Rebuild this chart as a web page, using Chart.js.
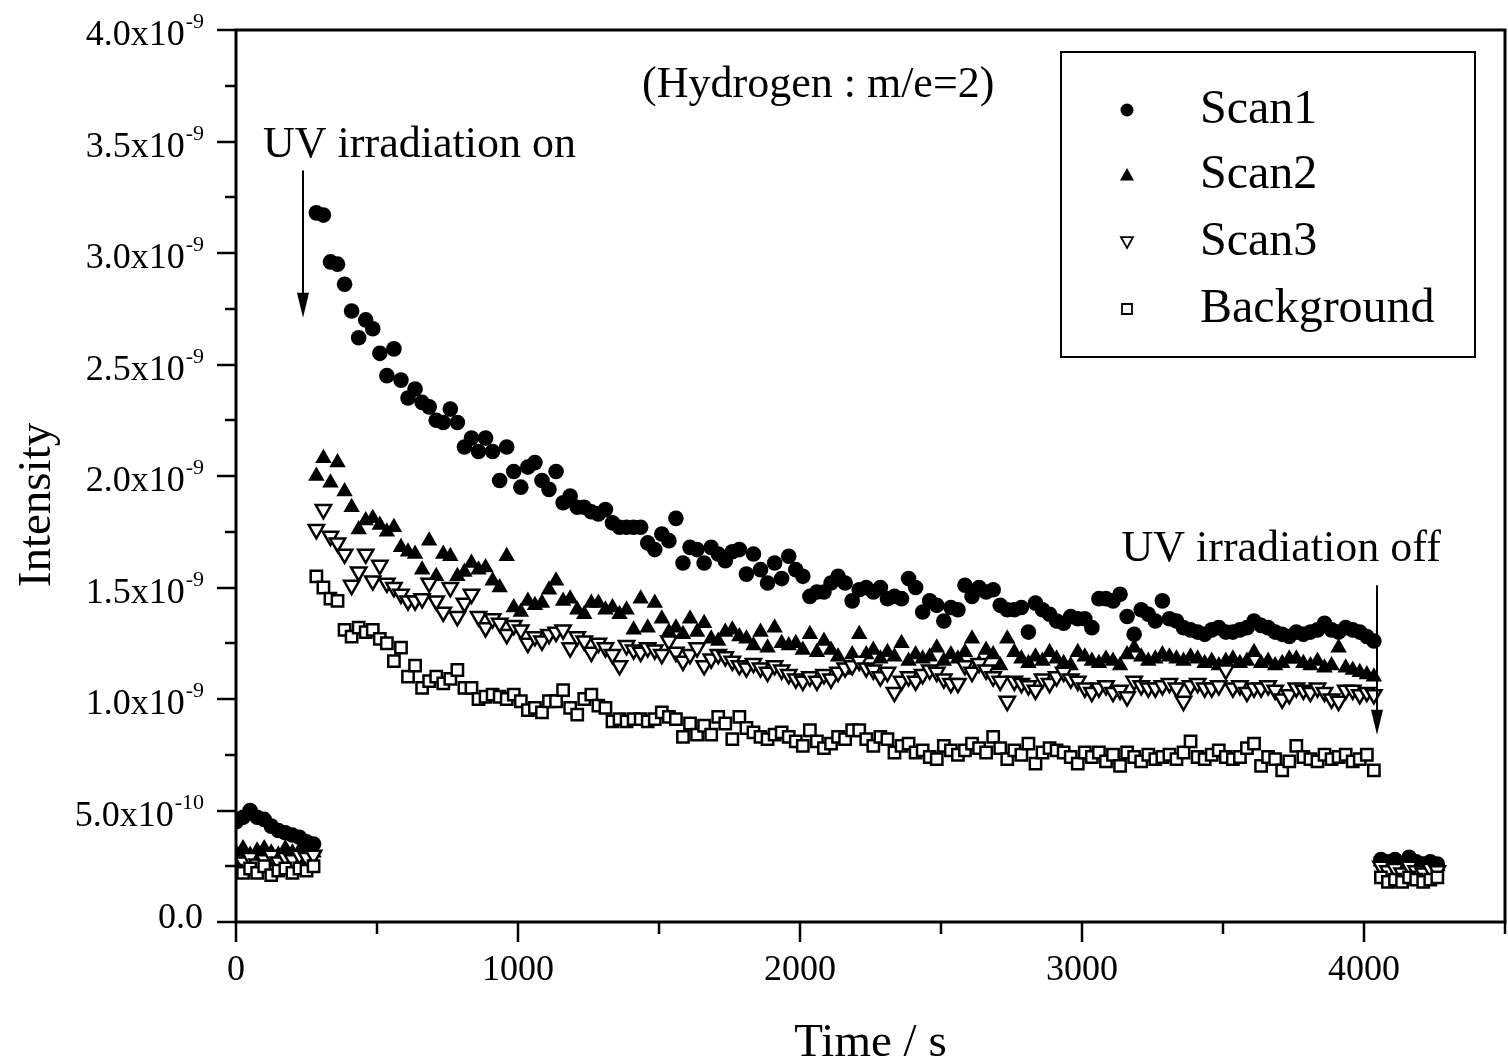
<!DOCTYPE html>
<html>
<head>
<meta charset="utf-8">
<title>Hydrogen (m/e=2) intensity vs time</title>
<script src="https://cdn.jsdelivr.net/npm/chart.js@4.4.1/dist/chart.umd.min.js"></script>
<style>
  html, body { margin: 0; padding: 0; background: #fff; }
  #wrap { width: 1508px; height: 1064px; }
</style>
</head>
<body>
<div id="wrap"><canvas id="hydrogenChart" width="1508" height="1064"></canvas></div>
<script>
// intensity values are in units of 1e-9
const seriesLabels = ['Scan1', 'Scan2', 'Scan3', 'Background'];

// sampling times (s): before UV, while UV is on, after UV is off
const timePre = [0, 25, 50, 75, 100, 125, 150, 175, 200, 225, 250, 275];
const timeMain = [
  285, 310, 335, 360, 385, 410, 435, 460, 485, 510,
  535, 560, 585, 610, 635, 660, 685, 710, 735, 760,
  785, 810, 835, 860, 885, 910, 935, 960, 985, 1010,
  1035, 1060, 1085, 1110, 1135, 1160, 1185, 1210, 1235, 1260,
  1285, 1310, 1335, 1360, 1385, 1410, 1435, 1460, 1485, 1510,
  1535, 1560, 1585, 1610, 1635, 1660, 1685, 1710, 1735, 1760,
  1785, 1810, 1835, 1860, 1885, 1910, 1935, 1960, 1985, 2010,
  2035, 2060, 2085, 2110, 2135, 2160, 2185, 2210, 2235, 2260,
  2285, 2310, 2335, 2360, 2385, 2410, 2435, 2460, 2485, 2510,
  2535, 2560, 2585, 2610, 2635, 2660, 2685, 2710, 2735, 2760,
  2785, 2810, 2835, 2860, 2885, 2910, 2935, 2960, 2985, 3010,
  3035, 3060, 3085, 3110, 3135, 3160, 3185, 3210, 3235, 3260,
  3285, 3310, 3335, 3360, 3385, 3410, 3435, 3460, 3485, 3510,
  3535, 3560, 3585, 3610, 3635, 3660, 3685, 3710, 3735, 3760,
  3785, 3810, 3835, 3860, 3885, 3910, 3935, 3960, 3985, 4010,
  4035
];
const timePost = [4060, 4085, 4110, 4135, 4160, 4185, 4210, 4235, 4260];

const scan1Pre = [0.45, 0.47, 0.50, 0.47, 0.46, 0.43, 0.41, 0.40, 0.39, 0.38, 0.36, 0.35];
const scan1Main = [
  3.18, 3.17, 2.96, 2.95, 2.86, 2.74, 2.62, 2.70, 2.66, 2.55,
  2.45, 2.57, 2.43, 2.35, 2.39, 2.33, 2.31, 2.25, 2.24, 2.30,
  2.24, 2.13, 2.17, 2.11, 2.17, 2.11, 1.98, 2.13, 2.02, 1.95,
  2.04, 2.06, 1.98, 1.94, 2.02, 1.88, 1.91, 1.86, 1.86, 1.84,
  1.83, 1.85, 1.79, 1.77, 1.77, 1.77, 1.77, 1.70, 1.67, 1.74,
  1.71, 1.81, 1.61, 1.68, 1.67, 1.61, 1.68, 1.65, 1.62, 1.66,
  1.67, 1.56, 1.65, 1.58, 1.52, 1.61, 1.54, 1.64, 1.58, 1.55,
  1.46, 1.48, 1.48, 1.52, 1.55, 1.52, 1.44, 1.49, 1.50, 1.48,
  1.50, 1.45, 1.46, 1.45, 1.54, 1.50, 1.39, 1.44, 1.42, 1.35,
  1.41, 1.40, 1.51, 1.46, 1.50, 1.48, 1.49, 1.42, 1.40, 1.40,
  1.41, 1.30, 1.43, 1.40, 1.38, 1.35, 1.34, 1.37, 1.36, 1.36,
  1.32, 1.45, 1.45, 1.44, 1.47, 1.37, 1.29, 1.40, 1.38, 1.35,
  1.44, 1.36, 1.35, 1.32, 1.31, 1.30, 1.29, 1.31, 1.32, 1.30,
  1.30, 1.31, 1.32, 1.35, 1.33, 1.32, 1.30, 1.29, 1.28, 1.30,
  1.29, 1.30, 1.31, 1.34, 1.31, 1.30, 1.32, 1.31, 1.30, 1.28,
  1.26
];
const scan1Post = [0.28, 0.27, 0.28, 0.26, 0.29, 0.27, 0.26, 0.27, 0.26];

const scan2Pre = [0.31, 0.33, 0.30, 0.32, 0.33, 0.31, 0.30, 0.33, 0.31, 0.32, 0.30, 0.31];
const scan2Main = [
  2.00, 2.08, 1.97, 2.06, 1.93, 1.86, 1.76, 1.80, 1.81, 1.78,
  1.75, 1.77, 1.68, 1.66, 1.65, 1.58, 1.71, 1.55, 1.65, 1.64,
  1.55, 1.57, 1.61, 1.58, 1.59, 1.53, 1.50, 1.64, 1.41, 1.39,
  1.44, 1.42, 1.43, 1.49, 1.53, 1.44, 1.45, 1.40, 1.38, 1.43,
  1.43, 1.40, 1.41, 1.38, 1.40, 1.31, 1.45, 1.32, 1.43, 1.36,
  1.30, 1.32, 1.29, 1.36, 1.30, 1.34, 1.27, 1.26, 1.30, 1.31,
  1.28, 1.27, 1.24, 1.30, 1.23, 1.32, 1.25, 1.24, 1.25, 1.22,
  1.29, 1.21, 1.26, 1.22, 1.19, 1.13, 1.20, 1.29, 1.20, 1.22,
  1.18, 1.21, 1.19, 1.25, 1.17, 1.20, 1.18, 1.19, 1.23, 1.17,
  1.20, 1.18, 1.21, 1.27, 1.16, 1.22, 1.20, 1.15, 1.27, 1.21,
  1.18, 1.16, 1.19, 1.17, 1.21, 1.18, 1.16, 1.15, 1.21, 1.19,
  1.17, 1.16, 1.18, 1.17, 1.15, 1.20, 1.23, 1.19, 1.17, 1.18,
  1.20, 1.19, 1.18, 1.17, 1.19, 1.18, 1.16, 1.17, 1.15, 1.17,
  1.18, 1.16, 1.17, 1.21, 1.16, 1.17, 1.15, 1.16, 1.18, 1.18,
  1.16, 1.15, 1.17, 1.14, 1.15, 1.23, 1.14, 1.13, 1.12, 1.11,
  1.10
];
const scan2Post = [0.27, 0.26, 0.27, 0.25, 0.27, 0.26, 0.25, 0.26, 0.25];

const scan3Pre = [0.28, 0.27, 0.29, 0.26, 0.28, 0.30, 0.27, 0.29, 0.28, 0.30, 0.29, 0.30];
const scan3Main = [
  1.76, 1.85, 1.73, 1.70, 1.65, 1.51, 1.57, 1.65, 1.53, 1.60,
  1.52, 1.50, 1.47, 1.44, 1.44, 1.45, 1.52, 1.44, 1.39, 1.50,
  1.37, 1.43, 1.47, 1.37, 1.32, 1.36, 1.34, 1.29, 1.33, 1.31,
  1.25, 1.28, 1.26, 1.29, 1.30, 1.31, 1.23, 1.28, 1.26, 1.21,
  1.25, 1.23, 1.20, 1.15, 1.24, 1.22, 1.21, 1.23, 1.22, 1.20,
  1.26, 1.21, 1.17, 1.20, 1.23, 1.15, 1.18, 1.20, 1.19, 1.17,
  1.15, 1.14, 1.16, 1.14, 1.12, 1.15, 1.13, 1.11, 1.09, 1.08,
  1.10, 1.08, 1.11, 1.09, 1.12, 1.14, 1.15, 1.17, 1.14, 1.13,
  1.10, 1.12, 1.03, 1.08, 1.10, 1.08, 1.11, 1.13, 1.12, 1.09,
  1.07, 1.07, 1.15, 1.12, 1.16, 1.13, 1.10, 1.08, 0.99, 1.08,
  1.07, 1.06, 1.04, 1.09, 1.07, 1.10, 1.12, 1.09, 1.08, 1.05,
  1.03, 1.05, 1.06, 1.03, 1.04, 1.01, 1.08, 1.06, 1.05, 1.05,
  1.06, 1.07, 1.05, 0.99, 1.06, 1.07, 1.05, 1.05, 1.06, 1.13,
  1.05, 1.06, 1.03, 1.05, 1.05, 1.06, 1.04, 1.00, 1.02, 1.05,
  1.04, 1.03, 1.05, 1.03, 1.00, 0.99, 1.04, 1.04, 1.02, 1.03,
  1.02
];
const scan3Post = [0.25, 0.23, 0.24, 0.22, 0.25, 0.23, 0.22, 0.24, 0.23];

const bgPre = [0.23, 0.22, 0.24, 0.22, 0.25, 0.21, 0.23, 0.24, 0.22, 0.24, 0.23, 0.25];
const bgMain = [
  1.55, 1.50, 1.45, 1.44, 1.31, 1.28, 1.32, 1.30, 1.31, 1.27,
  1.25, 1.17, 1.23, 1.10, 1.15, 1.05, 1.08, 1.10, 1.07, 1.09,
  1.13, 1.05, 1.05, 1.00, 1.01, 1.02, 1.01, 1.00, 1.02, 0.99,
  0.95, 0.96, 0.94, 0.99, 0.99, 1.04, 0.96, 0.93, 1.00, 1.02,
  0.97, 0.96, 0.90, 0.91, 0.90, 0.91, 0.91, 0.90, 0.91, 0.94,
  0.92, 0.91, 0.83, 0.89, 0.84, 0.88, 0.84, 0.92, 0.89, 0.82,
  0.92, 0.87, 0.85, 0.83, 0.82, 0.84, 0.85, 0.83, 0.81, 0.79,
  0.86, 0.81, 0.78, 0.80, 0.83, 0.82, 0.86, 0.86, 0.82, 0.79,
  0.83, 0.82, 0.76, 0.79, 0.80, 0.76, 0.77, 0.74, 0.73, 0.79,
  0.77, 0.75, 0.77, 0.80, 0.78, 0.76, 0.83, 0.78, 0.73, 0.77,
  0.75, 0.80, 0.71, 0.76, 0.78, 0.77, 0.76, 0.74, 0.71, 0.76,
  0.74, 0.76, 0.72, 0.75, 0.70, 0.76, 0.74, 0.72, 0.75, 0.73,
  0.74, 0.75, 0.73, 0.76, 0.81, 0.74, 0.73, 0.75, 0.77, 0.74,
  0.73, 0.74, 0.78, 0.80, 0.70, 0.74, 0.73, 0.68, 0.72, 0.79,
  0.74, 0.73, 0.72, 0.75, 0.73, 0.74, 0.75, 0.72, 0.73, 0.75,
  0.68
];
const bgPost = [0.20, 0.18, 0.19, 0.18, 0.20, 0.19, 0.18, 0.19, 0.20];

// axis ticks
const xTickValues = [0, 1000, 2000, 3000, 4000];
const xTickLabels = ['0', '1000', '2000', '3000', '4000'];
const yTickValues = [0, 0.5, 1.0, 1.5, 2.0, 2.5, 3.0, 3.5, 4.0];
const yTickBase = ['0.0', '5.0x10', '1.0x10', '1.5x10', '2.0x10', '2.5x10', '3.0x10', '3.5x10', '4.0x10'];
const yTickExp = ['', '-10', '-9', '-9', '-9', '-9', '-9', '-9', '-9'];

const FONT = '"Liberation Serif", "Times New Roman", serif';

function pts(times, vals) {
  return times.map((t, i) => ({ x: t, y: vals[i] }));
}
function series(pre, main, post) {
  return pts(timePre, pre).concat(pts(timeMain, main), pts(timePost, post));
}

// Annotations, in data units
const notes = [
  { text: '(Hydrogen : m/e=2)', x: 1440, y: 3.70 },
  { text: 'UV irradiation on', x: 96, y: 3.43 },
  { text: 'UV irradiation off', x: 3140, y: 1.62 }
];
const arrows = [
  { x: 238, from: 3.37, to: 2.71 },
  { x: 4045, from: 1.51, to: 0.84 }
];

function marker(ctx, style, x, y, r, lw) {
  ctx.beginPath();
  if (style === 'circle') {
    ctx.arc(x, y, r, 0, Math.PI * 2);
    ctx.fill();
  } else if (style === 'up') {
    ctx.moveTo(x, y - r); ctx.lineTo(x + r, y + r * 0.8); ctx.lineTo(x - r, y + r * 0.8); ctx.closePath();
    ctx.fill();
  } else if (style === 'down') {
    ctx.moveTo(x, y + r); ctx.lineTo(x + r, y - r * 0.8); ctx.lineTo(x - r, y - r * 0.8); ctx.closePath();
    ctx.lineWidth = lw; ctx.stroke();
  } else {
    ctx.rect(x - r, y - r, 2 * r, 2 * r);
    ctx.lineWidth = lw; ctx.stroke();
  }
}

const decor = {
  id: 'decor',
  afterDraw(chart) {
    const { ctx, chartArea: a, scales: { x, y } } = chart;
    ctx.save();
    ctx.strokeStyle = '#000';
    ctx.fillStyle = '#000';

    // frame
    ctx.lineWidth = 3;
    ctx.strokeRect(a.left, a.top, a.right - a.left, a.bottom - a.top);

    // y ticks (major every 0.5, minor every 0.25)
    ctx.lineWidth = 2.5;
    for (let v = 0; v <= 4.001; v += 0.25) {
      const py = Math.round(y.getPixelForValue(v));
      const len = Math.abs(v * 2 - Math.round(v * 2)) < 1e-6 ? 19 : 11;
      ctx.beginPath(); ctx.moveTo(a.left, py); ctx.lineTo(a.left - len, py); ctx.stroke();
    }
    // x ticks (major every 1000, minor every 500)
    for (let t = 0; t <= 4500; t += 500) {
      const px = Math.round(x.getPixelForValue(t));
      const len = t % 1000 === 0 ? 20 : 12;
      ctx.beginPath(); ctx.moveTo(px, a.bottom); ctx.lineTo(px, a.bottom + len); ctx.stroke();
    }

    // y tick labels with superscript exponents
    ctx.textBaseline = 'alphabetic';
    ctx.textAlign = 'left';
    yTickValues.forEach((v, i) => {
      const py = y.getPixelForValue(v);
      ctx.font = '36px ' + FONT;
      const wb = ctx.measureText(yTickBase[i]).width;
      ctx.font = '22px ' + FONT;
      const we = yTickExp[i] ? ctx.measureText(yTickExp[i]).width : 0;
      const left = 203 - wb - we;
      const base = yTickExp[i] ? py + 15 : py + 6;
      ctx.font = '36px ' + FONT;
      ctx.fillText(yTickBase[i], left, base);
      if (yTickExp[i]) {
        ctx.font = '22px ' + FONT;
        ctx.fillText(yTickExp[i], left + wb + 1, base - 17);
      }
    });

    // x tick labels
    ctx.font = '36px ' + FONT;
    ctx.textAlign = 'center';
    xTickValues.forEach((t, i) => {
      ctx.fillText(xTickLabels[i], x.getPixelForValue(t), 980);
    });

    // axis titles
    ctx.font = '47px ' + FONT;
    ctx.fillText('Time / s', (a.left + a.right) / 2, 1056);
    ctx.save();
    ctx.translate(50, 505);
    ctx.rotate(-Math.PI / 2);
    ctx.fillText('Intensity', 0, 0);
    ctx.restore();

    // annotations
    ctx.font = '44px ' + FONT;
    ctx.textAlign = 'left';
    notes.forEach(n => ctx.fillText(n.text, x.getPixelForValue(n.x), y.getPixelForValue(n.y)));
    arrows.forEach(ar => {
      const px = Math.round(x.getPixelForValue(ar.x));
      const y0 = y.getPixelForValue(ar.from);
      const y1 = y.getPixelForValue(ar.to);
      ctx.lineWidth = 2;
      ctx.beginPath(); ctx.moveTo(px, y0); ctx.lineTo(px, y1 - 20); ctx.stroke();
      ctx.beginPath();
      ctx.moveTo(px - 6, y1 - 25); ctx.lineTo(px + 6, y1 - 25); ctx.lineTo(px, y1); ctx.closePath();
      ctx.fill();
    });

    // legend
    ctx.lineWidth = 2;
    ctx.strokeRect(1061, 52, 414, 305);
    const styles = ['circle', 'up', 'down', 'square'];
    const sizes = [6.5, 7, 6, 5];
    const baselines = [123, 188, 255, 322];
    ctx.font = '48px ' + FONT;
    seriesLabels.forEach((lab, i) => {
      marker(ctx, styles[i], 1127, baselines[i] - 13, sizes[i], 1.8);
      ctx.fillText(lab, 1200, baselines[i]);
    });

    ctx.restore();
  }
};

const ctx = document.getElementById('hydrogenChart').getContext('2d');
new Chart(ctx, {
  type: 'scatter',
  data: {
    datasets: [
      {
        label: seriesLabels[0],
        data: series(scan1Pre, scan1Main, scan1Post),
        pointStyle: 'circle', pointRadius: 7.8,
        pointBackgroundColor: '#000', pointBorderColor: '#000', pointBorderWidth: 0,
        order: 4
      },
      {
        label: seriesLabels[1],
        data: series(scan2Pre, scan2Main, scan2Post),
        pointStyle: 'triangle', pointRadius: 9.5,
        pointBackgroundColor: '#000', pointBorderColor: '#000', pointBorderWidth: 0,
        order: 3
      },
      {
        label: seriesLabels[2],
        data: series(scan3Pre, scan3Main, scan3Post),
        pointStyle: 'triangle', pointRotation: 180, pointRadius: 8.8,
        pointBackgroundColor: '#fff', pointBorderColor: '#000', pointBorderWidth: 2.5,
        order: 2
      },
      {
        label: seriesLabels[3],
        data: series(bgPre, bgMain, bgPost),
        pointStyle: 'rect', pointRadius: 8,
        pointBackgroundColor: '#fff', pointBorderColor: '#000', pointBorderWidth: 2.5,
        order: 1
      }
    ]
  },
  options: {
    responsive: false,
    animation: false,
    events: [],
    layout: { autoPadding: false, padding: { left: 236, top: 30, right: 3, bottom: 142 } },
    plugins: {
      legend: { display: false },
      tooltip: { enabled: false }
    },
    scales: {
      x: { type: 'linear', min: 0, max: 4500, display: false },
      y: { type: 'linear', min: 0, max: 4, display: false }
    }
  },
  plugins: [decor]
});
</script>
</body>
</html>
